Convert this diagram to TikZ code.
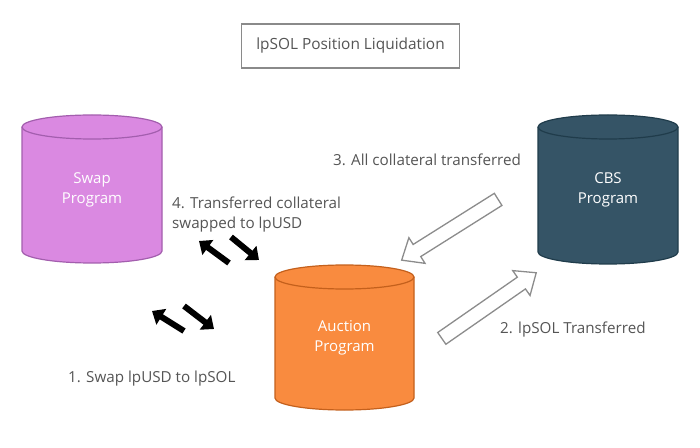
\documentclass[tikz,border=0pt]{standalone}
\usepackage{fontspec}
\setmainfont{Open Sans}
\usetikzlibrary{arrows.meta,shapes.arrows}
\definecolor{swapfill}{HTML}{DA89E1}
\definecolor{swapline}{HTML}{A35EAE}
\definecolor{cbsfill}{HTML}{355466}
\definecolor{cbsline}{HTML}{203C4B}
\definecolor{aucfill}{HTML}{F98B3F}
\definecolor{aucline}{HTML}{C4601C}
\definecolor{txtgray}{HTML}{555555}
\definecolor{boxgray}{HTML}{8A8A8A}
\definecolor{arrgray}{HTML}{8C8C8C}
\tikzset{
  cyltext/.style={text=white,font=\fontsize{15}{20}\selectfont,align=center,inner sep=0pt},
  lbl/.style={text=txtgray,font=\fontsize{15.2}{20}\selectfont,align=left,inner sep=0pt,anchor=west},
  titlebox/.style={draw=boxgray,line width=1.6pt,minimum width=218pt,minimum height=44pt,text=txtgray,font=\fontsize{15.4}{18}\selectfont},
  blk/.style={line width=6pt,-{Triangle[length=11pt,width=18pt]},black},
  hollow/.style={single arrow,draw=arrgray,fill=white,line width=1.3pt,inner sep=0pt,inner ysep=6.5pt,single arrow head extend=8pt,single arrow tip angle=80,single arrow head indent=0pt},
}
\newcommand{\mycyl}[6]{% cx, rx, topY(center of top ellipse), botY(center of bottom ellipse), fill, line
  \path[fill=#5,draw=#6,line width=1.2pt] (#1-#2,#3) -- (#1-#2,#4) arc[start angle=180,end angle=360,x radius=#2,y radius=12] -- (#1+#2,#3) arc[start angle=0,end angle=180,x radius=#2,y radius=12] -- cycle;
  \draw[#6,line width=1.2pt] (#1-#2,#3) arc[start angle=180,end angle=360,x radius=#2,y radius=12];
}
\begin{document}
\begin{tikzpicture}[x=1pt,y=1pt]
\useasboundingbox[fill=white] (0,0) rectangle (700,447);
% cylinders
\mycyl{92}{70}{320}{196}{swapfill}{swapline}
\mycyl{608}{70}{320}{195}{cbsfill}{cbsline}
\mycyl{344.5}{69.5}{170}{49}{aucfill}{aucline}
\node[cyltext] (swap) at (92,257) {Swap\\Program};
\node[cyltext] (cbs) at (608,257) {CBS\\Program};
\node[cyltext] (auction) at (344.5,109) {Auction\\Program};
% title
\node[titlebox] (title) at (350.5,401) {lpSOL Position Liquidation};
% labels
\node[lbl] (l3) at (333,287) {3. All collateral transferred};
\node[lbl] (l4) at (172,232) {4. Transferred collateral\\swapped to lpUSD};
\node[lbl] (l2) at (500,117) {2. lpSOL Transferred};
\node[lbl] (l1) at (68,68) {1. Swap lpUSD to lpSOL};
% hollow arrows
\node[hollow,minimum height=114pt,rotate=212.2] (a3) at (453.5,219.5) {};
\node[hollow,minimum height=115pt,rotate=34.8] (a2) at (485.5,139) {};
% black arrows
\coordinate (u1t) at (229,184); \coordinate (u1h) at (199,206);
\coordinate (u2t) at (231,210); \coordinate (u2h) at (259,187);
\coordinate (d1t) at (184,116); \coordinate (d1h) at (152,136);
\coordinate (d2t) at (184,141); \coordinate (d2h) at (214,118);
\draw[blk] (u1t) -- (u1h);
\draw[blk] (u2t) -- (u2h);
\draw[blk] (d1t) -- (d1h);
\draw[blk] (d2t) -- (d2h);
\end{tikzpicture}
\end{document}
